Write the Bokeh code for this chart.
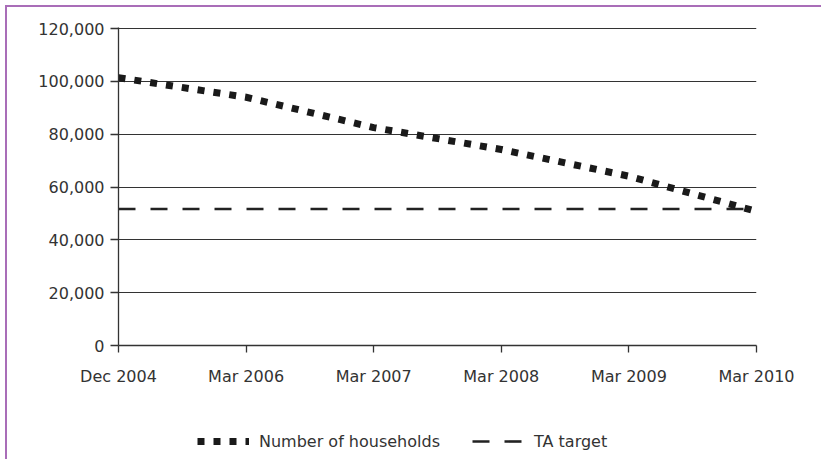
from bokeh.plotting import figure
from bokeh.layouts import column
from bokeh.models import (Range1d, FixedTicker, NumeralTickFormatter, Legend,
                          LegendItem, ColumnDataSource)
from bokeh.embed import file_html
from bokeh.resources import INLINE

# ---- data ----
categories = ["Dec 2004", "Mar 2006", "Mar 2007", "Mar 2008", "Mar 2009", "Mar 2010"]
households = [101400, 94000, 82500, 74200, 64100, 50800]
ta_target = [51700, 51700, 51700, 51700, 51700, 51700]
y_ticks = [0, 20000, 40000, 60000, 80000, 100000, 120000]
series_names = ["Number of households", "TA target"]

FONT = "DejaVu Sans"
TXT = "#333333"
BORDER = "#a96db8"
HH_STYLE = dict(line_color="#1a1a1a", line_width=7, line_dash="7 9",
                line_cap="butt", line_join="round")
TA_STYLE = dict(line_color="#222222", line_width=2.6, line_dash="17 15")

xs = list(range(len(categories)))
src = ColumnDataSource(dict(x=xs, h=households, t=ta_target))

p = figure(width=814, height=414, output_backend="svg", toolbar_location=None,
           x_range=Range1d(0, len(categories) - 1), y_range=Range1d(0, 120400),
           min_border_left=111, min_border_right=65, min_border_top=20,
           min_border_bottom=76)
p.outline_line_color = None
p.background_fill_color = "white"
p.border_fill_color = "white"

# grid
p.xgrid.grid_line_color = None
p.ygrid.ticker = FixedTicker(ticks=y_ticks)
p.ygrid.grid_line_color = "#333333"
p.ygrid.grid_line_width = 1

# axes
p.yaxis.ticker = FixedTicker(ticks=y_ticks)
p.yaxis.formatter = NumeralTickFormatter(format="0,0")
p.xaxis.ticker = FixedTicker(ticks=xs)
p.xaxis.major_label_overrides = {i: c for i, c in enumerate(categories)}
for ax in (p.xaxis, p.yaxis):
    ax.axis_line_color = "#333333"
    ax.axis_line_width = 1.3
    ax.major_tick_line_color = "#333333"
    ax.major_tick_line_width = 1.3
    ax.major_tick_in = 0
    ax.minor_tick_line_color = None
    ax.major_label_text_font = FONT
    ax.major_label_text_font_size = "16px"
    ax.major_label_text_color = TXT
p.yaxis.major_tick_out = 8
p.yaxis.major_label_standoff = 6
p.xaxis.major_tick_out = 7
p.xaxis.major_label_standoff = 14

p.line("x", "t", source=src, **TA_STYLE)
p.line("x", "h", source=src, **HH_STYLE)

# ---- legend strip below the chart ----
# same data, but ranges set far away so only the legend symbols are visible
q = figure(width=814, height=38, output_backend="svg", toolbar_location=None,
           x_axis_type=None, y_axis_type=None,
           x_range=Range1d(-3, -2), y_range=Range1d(-3, -2),
           min_border_left=111, min_border_right=65, min_border_top=0,
           min_border_bottom=0)
q.outline_line_color = None
q.xgrid.grid_line_color = None
q.ygrid.grid_line_color = None
q.border_fill_color = "white"
q.background_fill_color = "white"
lh = q.line("x", "h", source=src, **HH_STYLE)
lt = q.line("x", "t", source=src, **TA_STYLE)

legend = Legend(items=[LegendItem(label=series_names[0], renderers=[lh]),
                       LegendItem(label=series_names[1], renderers=[lt])],
                orientation="horizontal", location=(79, 8),
                border_line_color=None, background_fill_alpha=0,
                padding=0, margin=0, spacing=32, glyph_width=52,
                glyph_height=20, label_height=20, label_standoff=10,
                label_text_font=FONT, label_text_font_size="16px",
                label_text_color=TXT)
q.add_layout(legend, "center")

layout = column(p, q, spacing=0,
                styles={"margin-left": "5px", "margin-top": "5px",
                        "border-left": f"2px solid {BORDER}",
                        "border-top": f"2px solid {BORDER}"})

open("out.html", "w").write(file_html(layout, INLINE))
